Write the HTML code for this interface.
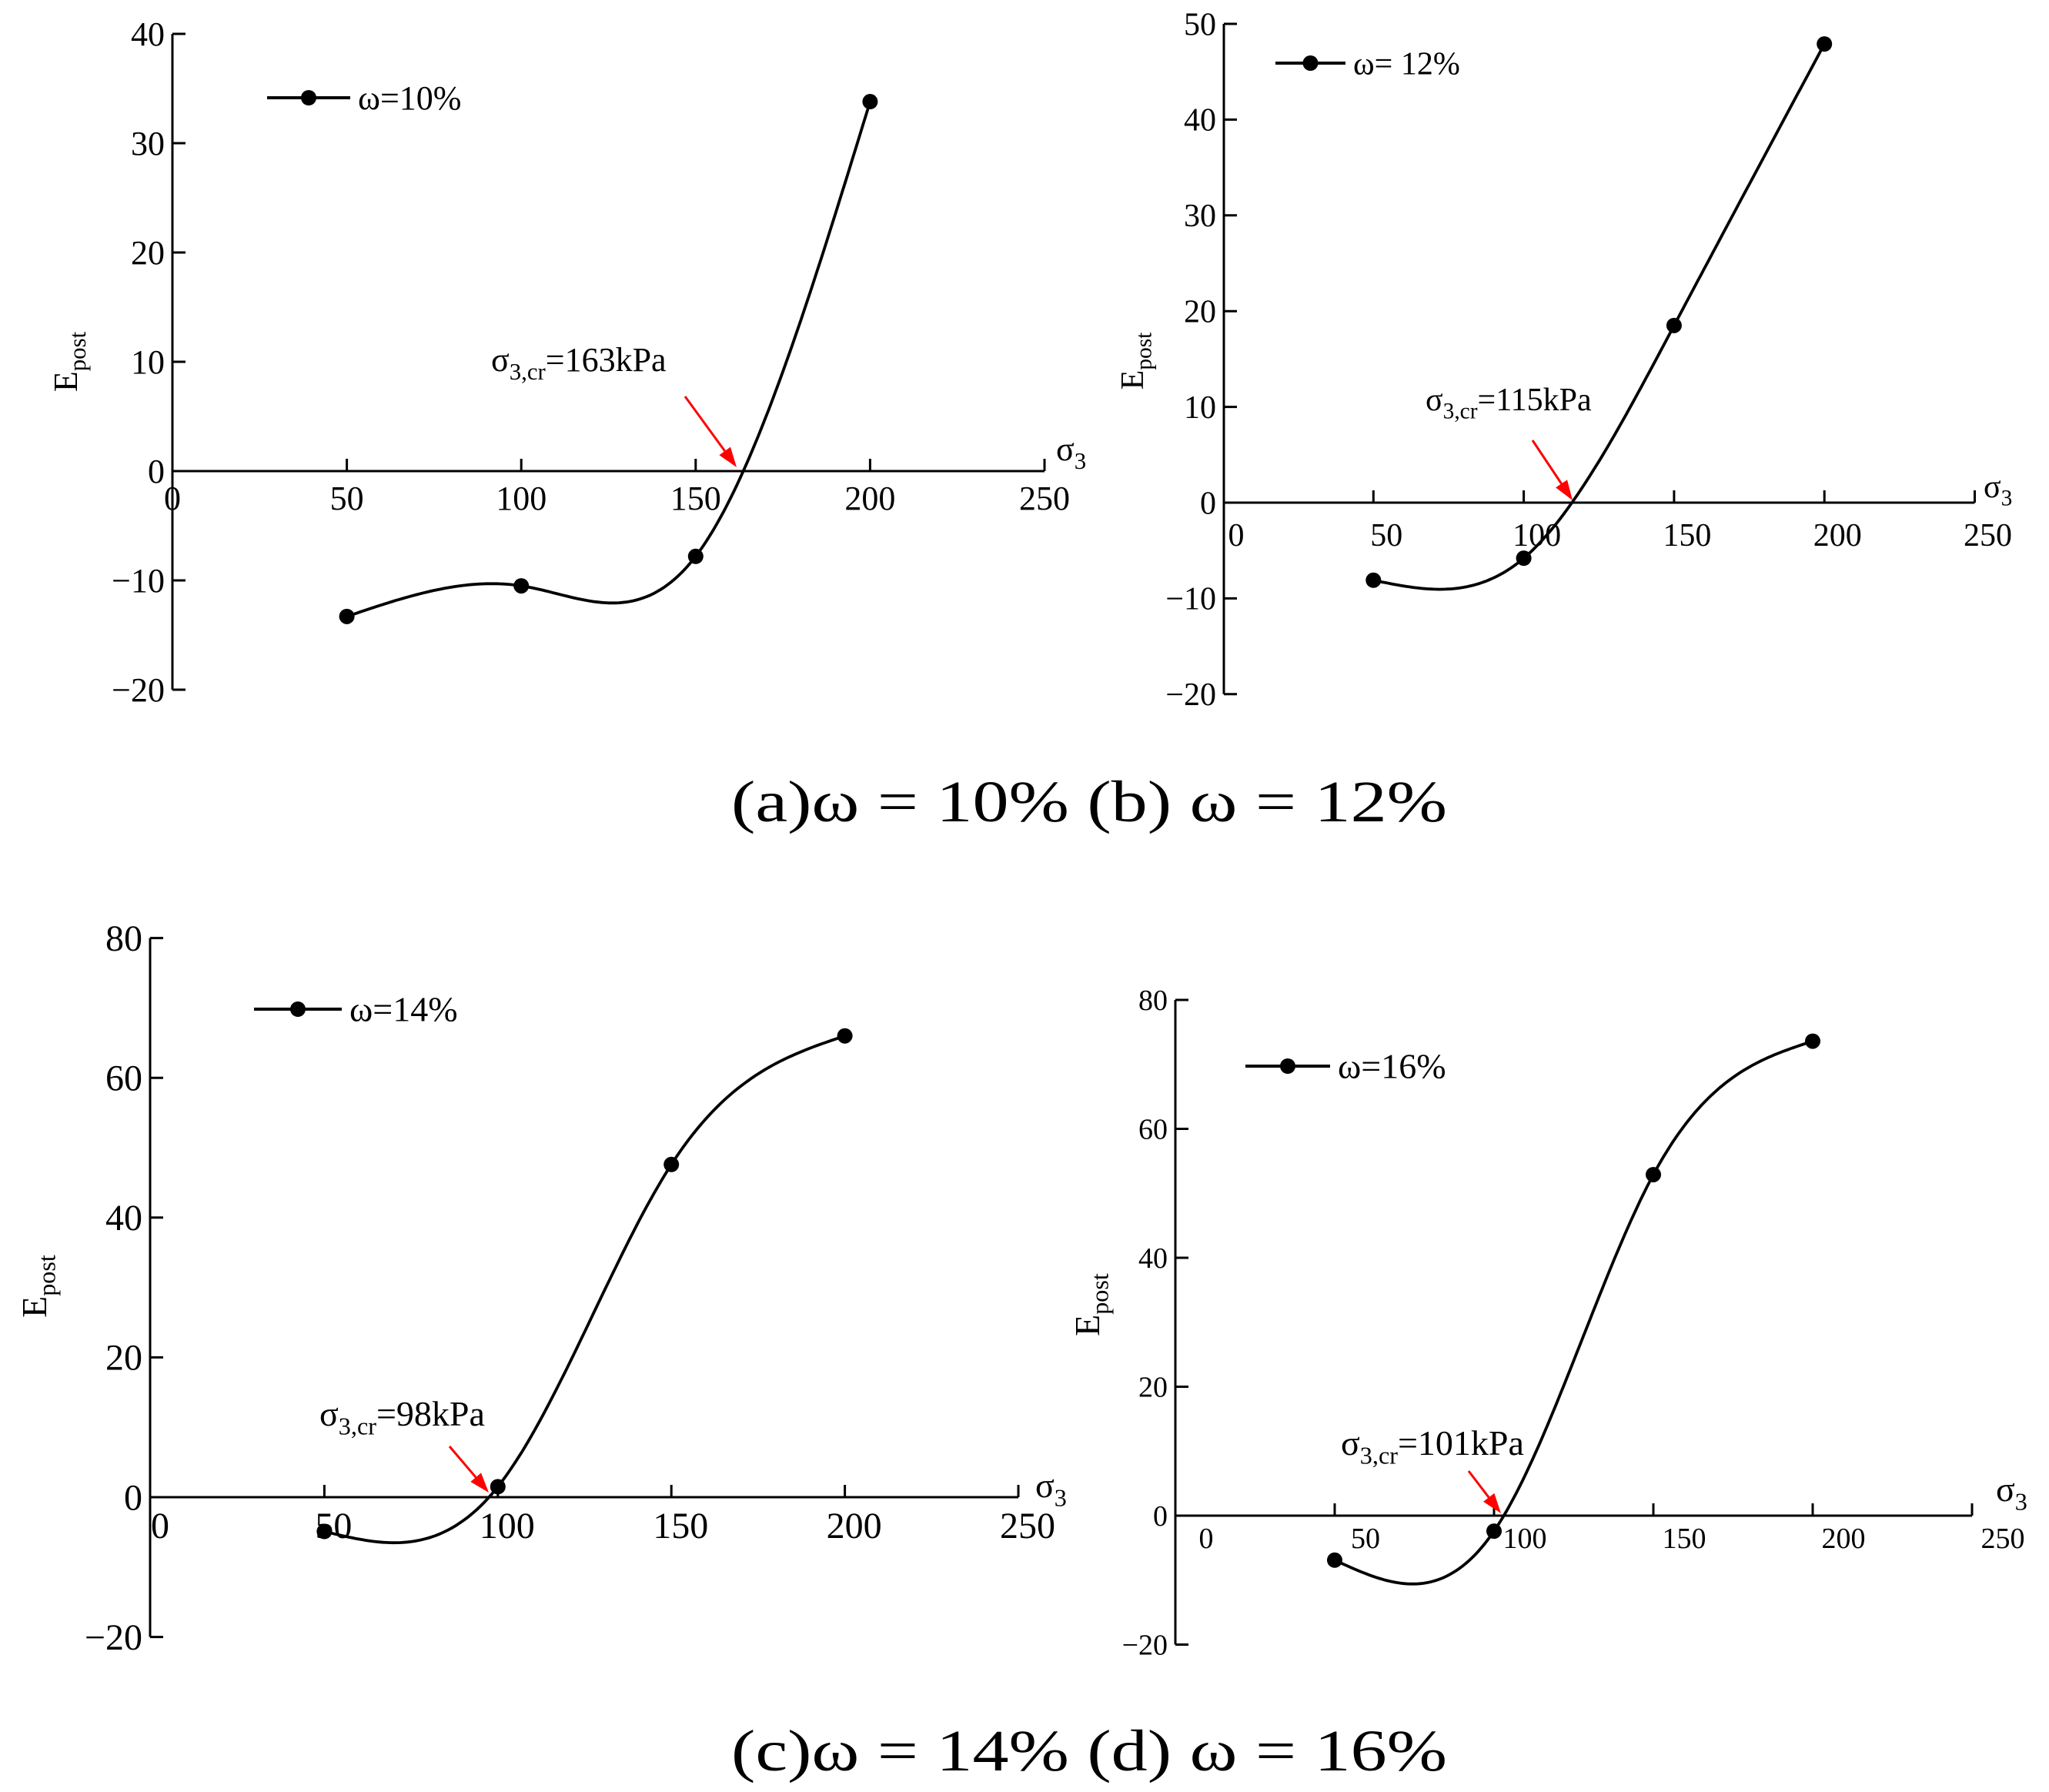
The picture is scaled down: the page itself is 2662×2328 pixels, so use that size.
<!DOCTYPE html>
<html><head><meta charset="utf-8"><style>
html,body{margin:0;padding:0;background:#fff;}
svg{display:block;font-family:"Liberation Serif",serif;}
svg text{font-family:"Liberation Serif",serif;}
</style></head><body>
<svg id="fig" width="2662" height="2328" viewBox="0 0 2662 2328" xmlns="http://www.w3.org/2000/svg" font-family="Liberation Serif, serif">
<text x="950" y="1067" font-size="76" textLength="930" lengthAdjust="spacingAndGlyphs">(a)ω = 10%  (b) ω = 12%</text>
<text x="950" y="2300" font-size="76" textLength="930" lengthAdjust="spacingAndGlyphs">(c)ω = 14%  (d) ω = 16%</text>
</svg>
<script>
const xCats = [50, 100, 150, 200];
const seriesA = [-13.3, -10.5, -7.8, 33.8];
const seriesB = [-8.1, -5.8, 18.5, 47.9];
const seriesC = [-4.9, 1.5, 47.6, 66.0];
const seriesD = [-6.9, -2.4, 52.9, 73.6];
const xTickLabels = [0, 50, 100, 150, 200, 250];
const yTicksA = [-20, -10, 0, 10, 20, 30, 40];
const yTicksB = [-20, -10, 0, 10, 20, 30, 40, 50];
const yTicksC = [-20, 0, 20, 40, 60, 80];
const yTicksD = [-20, 0, 20, 40, 60, 80];
const legendA = "ω=10%", legendB = "ω= 12%", legendC = "ω=14%", legendD = "ω=16%";
const critA = "163kPa", critB = "115kPa", critC = "98kPa", critD = "101kPa";

const NS = "http://www.w3.org/2000/svg";
const svg = document.getElementById('fig');
function mk(tag, attrs, parent){const e=document.createElementNS(NS,tag);for(const k in attrs)e.setAttribute(k,attrs[k]);if(tag==='text')e.setAttribute('font-family','Liberation Serif, serif');(parent||svg).appendChild(e);return e;}

function spline(xs, ys){
  const n=xs.length, h=[], a=[], l=[1], mu=[0], z=[0], c=new Array(n).fill(0), b=[], d=[];
  for(let i=0;i<n-1;i++)h.push(xs[i+1]-xs[i]);
  for(let i=1;i<n-1;i++)a[i]=3/h[i]*(ys[i+1]-ys[i])-3/h[i-1]*(ys[i]-ys[i-1]);
  for(let i=1;i<n-1;i++){l[i]=2*(xs[i+1]-xs[i-1])-h[i-1]*mu[i-1];mu[i]=h[i]/l[i];z[i]=(a[i]-h[i-1]*z[i-1])/l[i];}
  c[n-1]=0;
  for(let j=n-2;j>=1;j--)c[j]=z[j]-mu[j]*c[j+1];
  c[0]=0;
  for(let j=0;j<n-1;j++){b[j]=(ys[j+1]-ys[j])/h[j]-h[j]*(c[j+1]+2*c[j])/3;d[j]=(c[j+1]-c[j])/(3*h[j]);}
  return function(x){let j=0;while(j<n-2&&x>xs[j+1])j++;const dx=x-xs[j];return ys[j]+b[j]*dx+c[j]*dx*dx+d[j]*dx*dx*dx;};
}

function panel(p){
  const g=mk('g',{});
  
  
  const X=v=>p.x0+v*p.xs, Y=v=>p.y0-v*p.ys;
  const yTop=Y(p.yticks[p.yticks.length-1]), yBot=Y(p.yticks[0]);
  const ya=mk('line',{x1:p.ax,y1:yTop,x2:p.ax,y2:yBot,stroke:'#000','stroke-width':3},g);
  
  
  const xa=mk('line',{x1:p.ax,y1:p.y0,x2:X(250),y2:p.y0,stroke:'#000','stroke-width':3},g);
  
  
  p.yticks.forEach(t=>{
    mk('line',{x1:p.ax,y1:Y(t),x2:p.ax+17,y2:Y(t),stroke:'#000','stroke-width':3},g);
    const tx=mk('text',{x:p.ax-10,y:Y(t)+p.fs*0.34,'font-size':p.fs,'text-anchor':'end'},g);
    tx.textContent=(t<0?'\u2212'+(-t):t);
    
    
  });
  xTickLabels.forEach(t=>{
    if(t>0)mk('line',{x1:X(t),y1:p.y0,x2:X(t),y2:p.y0-16,stroke:'#000','stroke-width':3},g);
    const tx=mk('text',{x:X(t)+p.lx,y:p.ly,'font-size':p.fs,'text-anchor':'middle'},g);
    tx.textContent=t;
    
    
  });
  const f=spline(xCats,p.data);
  let d='';
  for(let v=xCats[0];v<=xCats[xCats.length-1]+0.001;v+=1){d+=(d?'L':'M')+X(v).toFixed(1)+','+Y(f(v)).toFixed(1);}
  const path=mk('path',{d:d,fill:'none',stroke:'#000','stroke-width':3.8},g);
  
  
  xCats.forEach((c,i)=>{
    const m=mk('circle',{cx:X(c),cy:Y(p.data[i]),r:10,fill:'#000'},g);
    
    
  });
  const fl=p.fl;
  const lg=mk('g',{},g);
  
  
  mk('line',{x1:p.leg[0],y1:p.leg[2],x2:p.leg[1],y2:p.leg[2],stroke:'#000','stroke-width':4},lg);
  mk('circle',{cx:(p.leg[0]+p.leg[1])/2,cy:p.leg[2],r:10,fill:'#000'},lg);
  const lt=mk('text',{x:p.leg[1]+10,y:p.leg[2]+fl*0.34,'font-size':fl},lg);
  lt.textContent=p.legend;
  const an=mk('text',{x:p.an[0],y:p.an[1],'font-size':fl},g);
  
  
  const s1=mk('tspan',{},an);s1.textContent='σ';
  const s2=mk('tspan',{dy:fl*0.25,'font-size':fl*0.7},an);s2.textContent='3,cr';
  const s3=mk('tspan',{dy:-fl*0.25},an);s3.textContent='='+p.crit;
  const [ax1,ay1,ax2,ay2]=p.arrow;
  const ang=Math.atan2(ay2-ay1,ax2-ax1), L=26, W=9;
  const bx=ax2-L*Math.cos(ang), by=ay2-L*Math.sin(ang);
  const ar=mk('g',{},g);
  
  
  mk('line',{x1:ax1,y1:ay1,x2:bx,y2:by,stroke:'#f00','stroke-width':3},ar);
  mk('polygon',{points:`${ax2},${ay2} ${bx+W*Math.sin(ang)},${by-W*Math.cos(ang)} ${bx-W*Math.sin(ang)},${by+W*Math.cos(ang)}`,fill:'#f00'},ar);
  const sl=mk('text',{x:p.sig[0],y:p.sig[1],'font-size':fl},g);
  
  
  const t1=mk('tspan',{},sl);t1.textContent='σ';
  const t2=mk('tspan',{dy:fl*0.25,'font-size':fl*0.7},sl);t2.textContent='3';
  const el=mk('text',{x:0,y:0,'font-size':fl,transform:`translate(${p.ep[0]},${p.ep[1]}) rotate(-90)`,'text-anchor':'middle'},g);
  
  
  const e1=mk('tspan',{},el);e1.textContent='E';
  const e2=mk('tspan',{dy:fl*0.25,'font-size':fl*0.7},el);e2.textContent='post';
}

panel({name:'panel-a',data:seriesA,ax:224,x0:224,xs:226.6/50,y0:612,ys:14.2,yticks:yTicksA,fs:44,fl:44,lx:0,ly:662,
  leg:[347,455,127],legend:legendA,crit:critA,an:[638,482],arrow:[890,515,957,607],sig:[1372,598],ep:[100,470]});
panel({name:'panel-b',data:seriesB,ax:1590,x0:1589,xs:195.3/50,y0:653,ys:12.44,yticks:yTicksB,fs:42,fl:42,lx:17,ly:709,
  leg:[1657,1748,82],legend:legendB,crit:critB,an:[1852,533],arrow:[1991,572,2043,650],sig:[2577,646],ep:[1485,469]});
panel({name:'panel-c',data:seriesC,ax:195,x0:196,xs:225.4/50,y0:1945,ys:9.08,yticks:yTicksC,fs:48,fl:46,lx:12,ly:1998,
  leg:[330,444,1311],legend:legendC,crit:critC,an:[415,1852],arrow:[584,1879,635,1939],sig:[1345,1945],ep:[60,1671]});
panel({name:'panel-d',data:seriesD,ax:1527,x0:1527,xs:207/50,y0:1969,ys:8.375,yticks:yTicksD,fs:38,fl:46,lx:40,ly:2011,
  leg:[1618,1728,1385],legend:legendD,crit:critD,an:[1742,1890],arrow:[1908,1911,1950,1966],sig:[2593,1950],ep:[1428,1695]});
</script>
</body></html>
